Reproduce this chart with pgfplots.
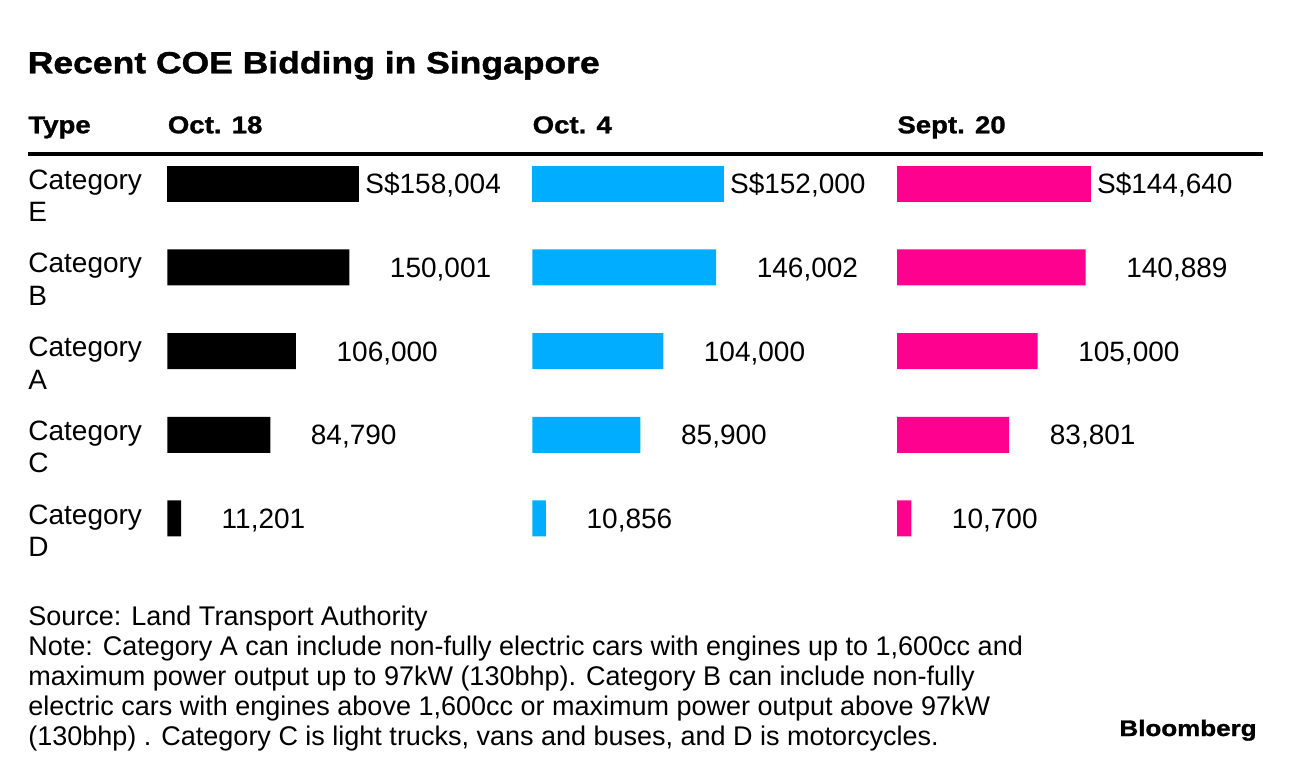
\documentclass[border=0pt]{standalone}
\usepackage{fontspec}
\setmainfont{Liberation Sans}
\newfontfamily\widefont[FakeStretch=1.16,FakeBold=1.3]{Liberation Sans}
\newfontfamily\headfont[FakeStretch=1.13,FakeBold=1.2]{Liberation Sans}
\usepackage{pgfplots}
\pgfplotsset{compat=1.18}
\definecolor{cblue}{RGB}{0,173,255}
\definecolor{cpink}{RGB}{255,0,143}
\newcommand\numfmt[1]{\pgfmathprintnumber[fixed,precision=0,1000 sep={,},assume math mode=true]{#1}}
\pgfplotsset{
  coeaxis/.style={
    scale only axis, anchor=north west,
    xmin=0, ymin=-0.5, ymax=4.5, y dir=reverse,
    height=209.25pt,
    axis line style={draw=none}, tick style={draw=none},
    xtick=\empty, ytick=\empty,
    clip=false,
  },
  coebar/.style={
    xbar, bar shift=0pt, bar width=18pt, draw=none, fill=#1,
    point meta=x,
    every node near coord/.append style={anchor=west, inner sep=0pt, xshift=3pt,
      text height=10pt, text depth=0pt, text=black,
      font=\fontsize{14}{16}\selectfont},
  },
}
\begin{document}
\begin{tikzpicture}
\path[use as bounding box] (0pt,0pt) rectangle (648pt,-387pt);
% title
\node[anchor=base west, inner sep=0pt, font=\fontsize{15.3}{18}\selectfont\widefont\bfseries]
  at (13.7pt,-36.65pt) {Recent COE Bidding in Singapore};
% headers
\begin{scope}[every node/.style={anchor=base west, inner sep=0pt, font=\fontsize{12.2}{14}\selectfont\headfont\bfseries}]
\node at (14pt,-66.65pt) {Type};
\node at (83.75pt,-66.65pt) {Oct. 18};
\node at (266.15pt,-66.65pt) {Oct. 4};
\node at (448.5pt,-66.65pt) {Sept. 20};
\end{scope}
\draw[line width=2pt] (14pt,-76.85pt) -- (631.65pt,-76.85pt);

% column 1
\begin{axis}[coeaxis, at={(83.75pt,-70.925pt)}, width=95.75pt, xmax=158004,
  ytick={0,1,2,3,4},
  yticklabels={{Category\\E},{Category\\B},{Category\\A},{Category\\C},{Category\\D}},
  yticklabel style={align=left, anchor=north west, inner sep=0pt, xshift=-69.75pt, yshift=7.2pt,
    font=\fontsize{14}{16.3}\selectfont},
]
\addplot[coebar=black, nodes near coords={S\$\numfmt{\pgfplotspointmeta}}] coordinates {(158004,0)};
\addplot[coebar=black, nodes near coords={\phantom{S\$}\numfmt{\pgfplotspointmeta}}] coordinates {
  (150001,1) (106000,2) (84790,3) (11201,4)};
\end{axis}

% column 2
\begin{axis}[coeaxis, at={(266.15pt,-70.925pt)}, width=95.7pt, xmax=152000]
\addplot[coebar=cblue, nodes near coords={S\$\numfmt{\pgfplotspointmeta}}] coordinates {(152000,0)};
\addplot[coebar=cblue, nodes near coords={\phantom{S\$}\numfmt{\pgfplotspointmeta}}] coordinates {
  (146002,1) (104000,2) (85900,3) (10856,4)};
\end{axis}

% column 3
\begin{axis}[coeaxis, at={(448.5pt,-70.925pt)}, width=96.85pt, xmax=144640]
\addplot[coebar=cpink, nodes near coords={S\$\numfmt{\pgfplotspointmeta}}] coordinates {(144640,0)};
\addplot[coebar=cpink, nodes near coords={\phantom{S\$}\numfmt{\pgfplotspointmeta}}] coordinates {
  (140889,1) (105000,2) (83801,3) (10700,4)};
\end{axis}

% footnotes
\begin{scope}[every node/.style={anchor=base west, inner sep=0pt, font=\fontsize{13.5}{15}\selectfont}]
\node at (14pt,-312.5pt) {Source: Land Transport Authority};
\node at (14pt,-327.5pt) {Note: Category A can include non-fully electric cars with engines up to 1,600cc and};
\node at (14pt,-342.5pt) {maximum power output up to 97kW (130bhp). Category B can include non-fully};
\node at (14pt,-357.5pt) {electric cars with engines above 1,600cc or maximum power output above 97kW};
\node at (14pt,-372.5pt) {(130bhp) . Category C is light trucks, vans and buses, and D is motorcycles.};
\end{scope}
\node[anchor=base east, inner sep=0pt, font=\fontsize{11.2}{13}\selectfont\widefont\bfseries]
  at (628.5pt,-368pt) {Bloomberg};
\end{tikzpicture}
\end{document}
